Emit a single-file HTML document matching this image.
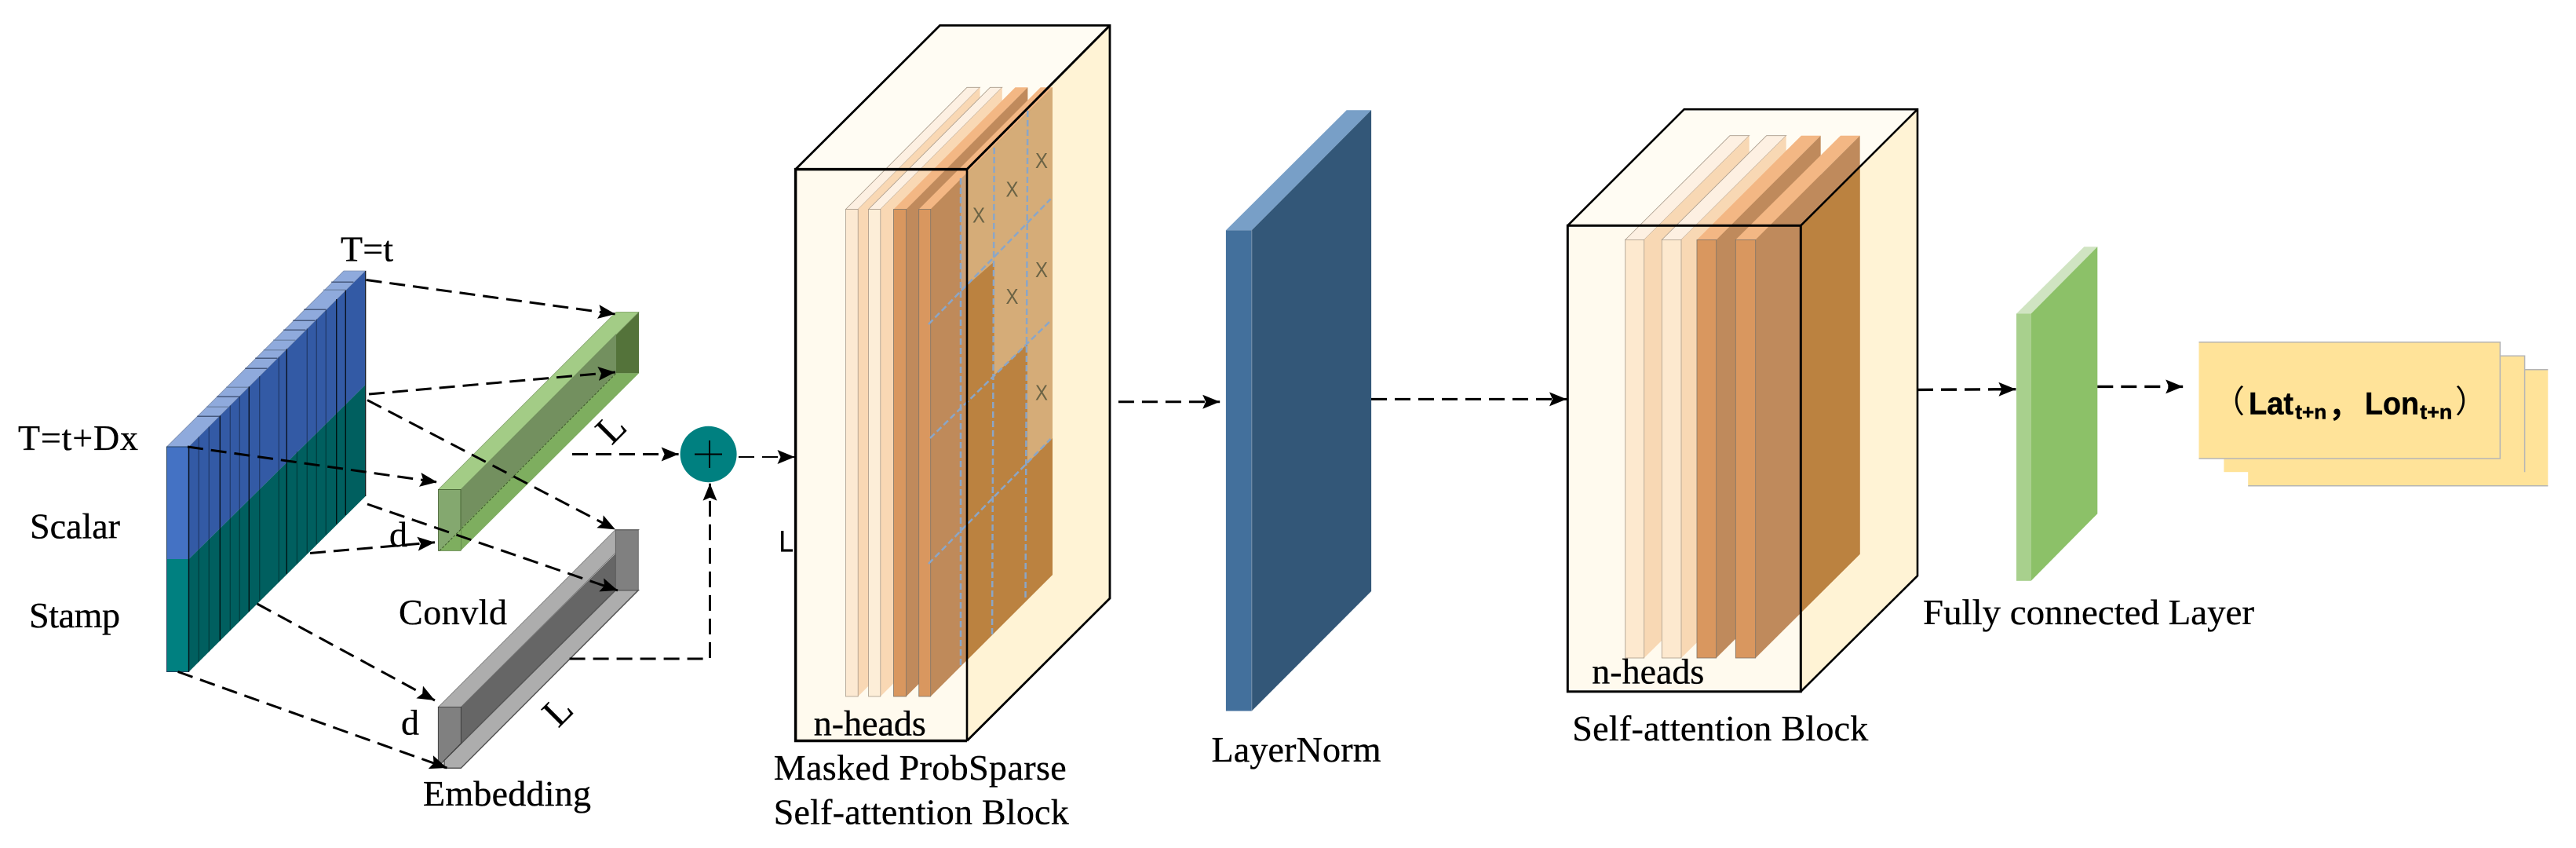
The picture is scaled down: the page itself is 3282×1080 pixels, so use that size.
<!DOCTYPE html>
<html><head><meta charset="utf-8"><style>
html,body{margin:0;padding:0;background:#fff;width:3282px;height:1080px;overflow:hidden}
svg{display:block}
text{font-family:"Liberation Serif",serif;font-size:46px;fill:#000;stroke:#000;stroke-width:.35}
.d{fill:none;stroke:#000;stroke-width:3;stroke-dasharray:20 10;marker-end:url(#a)}
.s{stroke:#000;stroke-opacity:.32;stroke-width:1.4}
.k{stroke:#000;stroke-opacity:.8;stroke-width:1.4}
.t{stroke:#46587c;stroke-width:1.5}
.u{stroke:#6f86ab;stroke-width:1.5}
.g{stroke:#8aa6c8;stroke-width:2.5;stroke-dasharray:8 4;fill:none}
text.x{font-family:"Liberation Sans",sans-serif;font-size:28px;fill:#6b6345;stroke:none}
text.b{font-family:"Liberation Sans",sans-serif;font-weight:700;stroke-width:.5}
text.c{font-family:"Liberation Sans","Noto Sans CJK SC",sans-serif;font-size:40px;stroke:none}
.e{stroke:#a89a8a;stroke-width:.8}
.f{stroke:#7d7468;stroke-width:.8}
</style></head><body>
<svg width="3282" height="1080" viewBox="0 0 3282 1080" xmlns="http://www.w3.org/2000/svg">
<defs>
<marker id="a" markerUnits="userSpaceOnUse" markerWidth="24" markerHeight="20" refX="22" refY="9" orient="auto"><path d="M0,0L22,9L0,18L4,9z" fill="#000"/></marker>
</defs>

<!-- input block -->
<polygon points="212.5,569 240.7,569 465.7,345 438,345" fill="#8faadc" stroke="#7d8eae" stroke-width=".8"/>
<polygon points="240.7,569 465.7,345 465.7,490 240.7,712" fill="#335aa5"/>
<polygon points="240.7,712 465.7,490 465.7,632 240.7,855.5" fill="#005f5f"/>
<rect x="212.5" y="569" width="28.2" height="143" fill="#4472c4"/>
<rect x="212.5" y="712" width="28.2" height="143.5" fill="#008080"/>
<rect x="212.5" y="569" width="28.2" height="286.5" fill="none" stroke="#23405f" stroke-width="1"/>
<line class="k" x1="240.5" y1="569" x2="240.5" y2="855.5"/>
<line class="s" x1="253.3" y1="556.4" x2="253.3" y2="842.9"/>
<line class="s" x1="266.3" y1="543.4" x2="266.3" y2="829.9"/>
<line class="k" x1="280.3" y1="529.4" x2="280.3" y2="815.9"/>
<line class="s" x1="293.3" y1="516.4" x2="293.3" y2="802.9"/>
<line class="s" x1="305.3" y1="504.4" x2="305.3" y2="790.9"/>
<line class="k" x1="317.3" y1="492.4" x2="317.3" y2="778.9"/>
<line class="s" x1="330.7" y1="479" x2="330.7" y2="765.5"/>
<line class="s" x1="355.3" y1="454.4" x2="355.3" y2="740.9"/>
<line class="k" x1="365.3" y1="444.4" x2="365.3" y2="730.9"/>
<line class="s" x1="378.4" y1="575" x2="378.4" y2="717.8"/>
<line class="s" x1="391.3" y1="418.4" x2="391.3" y2="704.9"/>
<line class="s" x1="403.3" y1="406.4" x2="403.3" y2="692.9"/>
<line class="s" x1="415.3" y1="394.4" x2="415.3" y2="680.9"/>
<line class="k" x1="428.7" y1="381" x2="428.7" y2="667.5"/>
<line class="k" x1="440.3" y1="369.4" x2="440.3" y2="655.9"/>
<line class="k" x1="465.7" y1="345" x2="465.7" y2="632"/>
<line class="t" x1="422.2" y1="359.3" x2="450.4" y2="359.3"/>
<line class="u" x1="412.2" y1="369.3" x2="440.4" y2="369.3"/>
<line class="t" x1="387.2" y1="394.3" x2="415.4" y2="394.3"/>
<line class="t" x1="373.2" y1="408.3" x2="401.4" y2="408.3"/>
<line class="t" x1="361.2" y1="420.3" x2="389.4" y2="420.3"/>
<line class="u" x1="348.2" y1="433.3" x2="376.4" y2="433.3"/>
<line class="u" x1="335.8" y1="445.7" x2="364" y2="445.7"/>
<line class="t" x1="325.2" y1="456.3" x2="353.4" y2="456.3"/>
<line class="t" x1="312.2" y1="469.3" x2="340.4" y2="469.3"/>
<line class="u" x1="288.2" y1="493.3" x2="316.4" y2="493.3"/>
<line class="t" x1="276.2" y1="505.3" x2="304.4" y2="505.3"/>
<line class="u" x1="263.2" y1="518.3" x2="291.4" y2="518.3"/>
<line class="t" x1="251.2" y1="530.3" x2="279.4" y2="530.3"/>

<!-- green conv bar -->
<polygon points="785,417.7 814,397.3 814,475.4 785,475.4" fill="#54733a"/>
<polygon points="558.5,623.4 587,623.4 814,397.3 785,397.3" fill="#a3cc86" stroke="#7f9d69" stroke-width=".7"/>
<polygon points="587,623.4 785,425 785,475.4 587,675" fill="#73905f"/>
<polygon points="558.5,701.4 587,701.4 814,475.4 785,475.4" fill="#7eae5f"/>
<rect x="558.5" y="623.4" width="28.5" height="78" fill="#84a86f" stroke="#3f5a2c" stroke-width=".8"/>
<polygon points="560,701.4 587,701.4 587,675" fill="#7eae5f"/>
<line x1="560" y1="701.4" x2="785" y2="475.4" stroke="#3f5a2c" stroke-width="1" stroke-dasharray="3 2"/>

<!-- gray embed bar -->
<polygon points="558.5,900.4 587.3,900.4 814,674.4 784.3,674.4" fill="#adadad" stroke="#777" stroke-width=".8"/>
<polygon points="587.3,900.4 784.3,705 784.3,751.7 587.3,946.7" fill="#666"/>
<polygon points="566,968.3 784.3,751.7 813.3,751.7 587.3,978.3 566,978.3" fill="#adadad" stroke="#555" stroke-width="1.5"/>
<polygon points="558.3,900.4 587.3,900.4 587.3,946.7 566,968.3 558.3,977" fill="#808080" stroke="#333" stroke-width=".8"/>
<rect x="784.3" y="675" width="29" height="76.7" fill="#808080" stroke="#555" stroke-width=".8"/>

<!-- left arrows -->
<line class="d" x1="466.6" y1="356.5" x2="784" y2="400"/>
<line class="d" x1="470" y1="502" x2="784" y2="474"/>
<line class="d" x1="468" y1="509.6" x2="784" y2="674.4"/>
<line class="d" x1="239" y1="569" x2="557" y2="614"/>
<line class="d" x1="395" y1="704.5" x2="554" y2="690.7"/>
<line class="d" x1="468" y1="642" x2="787" y2="752"/>
<line class="d" x1="327.6" y1="769" x2="554" y2="892"/>
<line class="d" x1="226.6" y1="855.5" x2="569.5" y2="978"/>
<line class="d" x1="729" y1="578.5" x2="864.6" y2="578.5"/>
<polyline class="d" points="725.6,839 904.5,839 904.5,615.7"/>
<line class="d" style="stroke-width:2" x1="941" y1="582" x2="1012.5" y2="582"/>

<!-- plus circle -->
<ellipse cx="902.6" cy="578.5" rx="36" ry="35.7" fill="#008080"/>
<line x1="885" y1="578.5" x2="920" y2="578.5" stroke="#000" stroke-width="2"/>
<line x1="904" y1="561" x2="904" y2="596" stroke="#000" stroke-width="2"/>

<!-- left labels -->
<text x="434" y="332.5" textLength="67">T=t</text>
<text x="23" y="573" textLength="153">T=t+Dx</text>
<text x="38" y="685.6" textLength="115">Scalar</text>
<text x="37" y="799" textLength="116">Stamp</text>
<text x="496" y="696">d</text>
<text x="508" y="795" textLength="138">Convld</text>
<text x="511" y="935.6">d</text>
<text x="539" y="1026" textLength="214">Embedding</text>
<text style="font-size:50px" text-anchor="middle" transform="translate(778,545) rotate(-45)" y="17">L</text>
<text style="font-size:50px" text-anchor="middle" transform="translate(710,905) rotate(-45)" y="17">L</text>

<!-- cube 1 -->
<polygon points="1013.6,215.6 1197.5,32.4 1414,32.4 1232,215.6" fill="#fffcf3"/>
<polygon points="1232,215.6 1414,32.4 1414,762 1232,943.5" fill="#fff3d5"/>
<rect x="1013.6" y="215.6" width="218.4" height="727.9" fill="#fffaee"/>
<polygon class="e" points="1077.5,266.5 1232,111.3 1248.5,111.3 1093.2,266.5" fill="#fdf0e2"/>
<polygon points="1093.2,266.5 1248.5,111.3 1248.5,732 1093.2,887" fill="#f9d8b4"/>
<rect class="e" x="1077.5" y="266.5" width="15.7" height="620.5" fill="#fce9d2"/>
<polygon class="e" points="1106.6,266.5 1261.5,111.3 1276.8,111.3 1121.8,266.5" fill="#fdf0e2"/>
<polygon points="1121.8,266.5 1276.8,111.3 1276.8,732 1121.8,887" fill="#f9d8b4"/>
<rect class="e" x="1106.6" y="266.5" width="15.2" height="620.5" fill="#fdeed8"/>
<polygon points="1138.5,266.5 1293.5,111.3 1309.4,111.3 1154.6,266.5" fill="#f3b784"/>
<polygon points="1154.6,266.5 1309.4,111.3 1309.4,732 1154.6,887" fill="#c08a5c"/>
<rect class="f" x="1138.5" y="266.5" width="16.1" height="620.5" fill="#d9975f"/>
<polygon points="1170.7,266.5 1325.7,111.3 1341,111.3 1185.7,266.5" fill="#f3b784"/>
<polygon points="1185.7,266.5 1341,111.3 1341,732 1185.7,887" fill="#bf8a5a"/>
<polygon points="1232,220.2 1341,111.3 1341,732 1232,840.7" fill="#bb8240"/>
<rect class="f" x="1170.7" y="266.5" width="15" height="620.5" fill="#d9975f"/>
<!-- masked cells -->
<polygon points="1224,228.2 1232,220.2 1232,363.5 1224,370" fill="#c9a078"/>
<polygon points="1232,220.2 1266.7,185.5 1266.7,333.3 1232,363.5" fill="#d5ac78"/>
<polygon points="1266.7,185.5 1309,143.5 1309,438 1266.7,478" fill="#d5ac78"/>
<polygon points="1309,143.5 1341,111.3 1341,558 1309,590" fill="#d5ac78"/>
<line class="g" x1="1224" y1="227" x2="1224" y2="850"/>
<line class="g" x1="1266.7" y1="188" x2="1264" y2="812"/>
<line class="g" x1="1309.3" y1="141" x2="1306.5" y2="764"/>
<line class="g" x1="1183" y1="413" x2="1338.6" y2="253.4"/>
<line class="g" x1="1185" y1="558" x2="1337" y2="410"/>
<line class="g" x1="1183" y1="718" x2="1338.6" y2="559"/>
<text class="x" x="1239" y="283.5" textLength="16" lengthAdjust="spacingAndGlyphs">X</text>
<text class="x" x="1281.5" y="250.5" textLength="16" lengthAdjust="spacingAndGlyphs">X</text>
<text class="x" x="1319" y="214" textLength="16" lengthAdjust="spacingAndGlyphs">X</text>
<text class="x" x="1281.5" y="387" textLength="16" lengthAdjust="spacingAndGlyphs">X</text>
<text class="x" x="1319" y="353" textLength="16" lengthAdjust="spacingAndGlyphs">X</text>
<text class="x" x="1319" y="509.5" textLength="16" lengthAdjust="spacingAndGlyphs">X</text>
<polyline points="1013.6,215.6 1197.5,32.4 1414,32.4 1414,762 1232,943.5" fill="none" stroke="#000" stroke-width="2.8"/>
<line x1="1232" y1="215.6" x2="1414" y2="32.4" stroke="#000" stroke-width="3"/>
<line x1="1232" y1="215.6" x2="1232" y2="943.5" stroke="#000" stroke-width="2.6"/>
<polyline points="1232,215.6 1013.6,215.6 1013.6,943.5 1232,943.5" fill="none" stroke="#000" stroke-width="3.5"/>
<text style="font-family:'Liberation Sans',sans-serif;font-size:38px" x="992.5" y="702.5" textLength="18.5" lengthAdjust="spacingAndGlyphs">L</text>
<text x="1036.8" y="936.6" textLength="143">n-heads</text>
<text x="985.7" y="993" textLength="373">Masked ProbSparse</text>
<text x="985.7" y="1049.6" textLength="376">Self-attention Block</text>

<!-- LayerNorm -->
<polygon points="1561.9,293.3 1594.8,293.3 1747.1,140.3 1715.7,140.3" fill="#789fc7"/>
<rect x="1561.9" y="293.3" width="32.9" height="612.2" fill="#43709c"/>
<polygon points="1594.8,293.3 1747.1,140.3 1747.1,753 1594.8,905.5" fill="#335778"/>
<line x1="1594.8" y1="293.3" x2="1594.8" y2="905.5" stroke="#7d96ad" stroke-width="1"/>
<text x="1543.5" y="970" textLength="216">LayerNorm</text>
<line class="d" x1="1424.9" y1="511.7" x2="1554.2" y2="511.7"/>
<line class="d" x1="1747" y1="508.4" x2="1996" y2="508.4"/>

<!-- cube 2 -->
<polygon points="1997.3,287.3 2145.7,139.2 2443,139.2 2294.3,287.3" fill="#fffcf3"/>
<polygon points="2294.3,287.3 2443,139.2 2443,733.3 2294.3,880.8" fill="#fff3d5"/>
<rect x="1997.3" y="287.3" width="297" height="593.5" fill="#fffaee"/>
<polygon class="e" points="2070.7,305.4 2204,172.7 2228.7,172.7 2094.7,305.4" fill="#fdf0e2"/>
<polygon points="2094.7,305.4 2228.7,172.7 2228.7,705.8 2094.7,838" fill="#f8d8b4"/>
<rect class="e" x="2070.7" y="305.4" width="24" height="532.6" fill="#fde9cf"/>
<polygon class="e" points="2117.3,305.4 2250.7,172.7 2275.7,172.7 2142,305.4" fill="#fdf0e2"/>
<polygon points="2142,305.4 2275.7,172.7 2275.7,705.8 2142,838" fill="#f8d8b4"/>
<rect class="e" x="2117.3" y="305.4" width="24.7" height="532.6" fill="#fde9cf"/>
<polygon points="2162,305.4 2295,172.7 2319.7,172.7 2186.7,305.4" fill="#f3b784"/>
<polygon points="2186.7,305.4 2319.7,172.7 2319.7,705.8 2186.7,838" fill="#bf8a5c"/>
<rect class="f" x="2162" y="305.4" width="24.7" height="532.6" fill="#d9975f"/>
<polygon points="2211.3,305.4 2345,172.7 2369.7,172.7 2236.7,305.4" fill="#f3b784"/>
<polygon points="2236.7,305.4 2369.7,172.7 2369.7,705.8 2236.7,838" fill="#bf8a5c"/>
<polygon points="2294.3,287.3 2369.7,211.9 2369.7,705.8 2294.3,780.4" fill="#bb8240"/>
<rect class="f" x="2211.3" y="305.4" width="25.4" height="532.6" fill="#d9975f"/>
<polyline points="1997.3,287.3 2145.7,139.2 2443,139.2 2443,733.3 2294.3,880.8" fill="none" stroke="#000" stroke-width="2.6"/>
<line x1="2294.3" y1="287.3" x2="2443" y2="139.2" stroke="#000" stroke-width="2.6"/>
<rect x="1997.3" y="287.3" width="297" height="593.5" fill="none" stroke="#000" stroke-width="3"/>
<text x="2028.3" y="870.4" textLength="143">n-heads</text>
<text x="2003.3" y="942.8" textLength="377">Self-attention Block</text>

<!-- green layer -->
<polygon points="2569,399.5 2587.7,399.5 2672.3,314.3 2655.3,314.3" fill="#d0e4c2"/>
<rect x="2569" y="399.5" width="18.7" height="340.3" fill="#a8d08d"/>
<polygon points="2587.7,399.5 2672.3,314.3 2672.3,654.2 2587.7,739.8" fill="#8cc168"/>
<text x="2450" y="795" textLength="422" lengthAdjust="spacingAndGlyphs">Fully connected Layer</text>
<line class="d" style="stroke-width:3.4" x1="2443" y1="496.4" x2="2568.4" y2="495.7"/>
<line class="d" style="stroke-width:3.4" x1="2672.3" y1="492.4" x2="2781.2" y2="492.4"/>

<!-- output cards -->
<rect x="2864.2" y="470.8" width="382.1" height="147.9" fill="#ffe399"/>
<path d="M2864.2,470.8H3246.3M2864.2,618.7H3246.3" stroke="#b5b5b5" stroke-width="1.5" fill="none"/>
<rect x="2833.4" y="453.2" width="383.2" height="148" fill="#ffe399"/>
<path d="M2833.4,453.2H3216.6V601.2" stroke="#b5b5b5" stroke-width="1.5" fill="none"/>
<rect x="2801.5" y="435.7" width="383.8" height="148.3" fill="#ffe399"/>
<path d="M2801.5,435.7H3185.3V584H2801.5" stroke="#b5b5b5" stroke-width="1.5" fill="none"/>
<text class="c" x="2820" y="525">（</text>
<text class="b" style="font-size:40px" x="2865" y="527.5" textLength="57" lengthAdjust="spacingAndGlyphs">Lat</text>
<text class="b" style="font-size:26px" x="2924.3" y="533.5" textLength="40" lengthAdjust="spacingAndGlyphs">t+n</text>
<text class="c" style="font-weight:700" x="2966" y="530">，</text>
<text class="b" style="font-size:40px" x="3013" y="527.5" textLength="69" lengthAdjust="spacingAndGlyphs">Lon</text>
<text class="b" style="font-size:26px" x="3083.3" y="533.5" textLength="41" lengthAdjust="spacingAndGlyphs">t+n</text>
<text class="c" x="3128" y="525">）</text>
</svg>
</body></html>
